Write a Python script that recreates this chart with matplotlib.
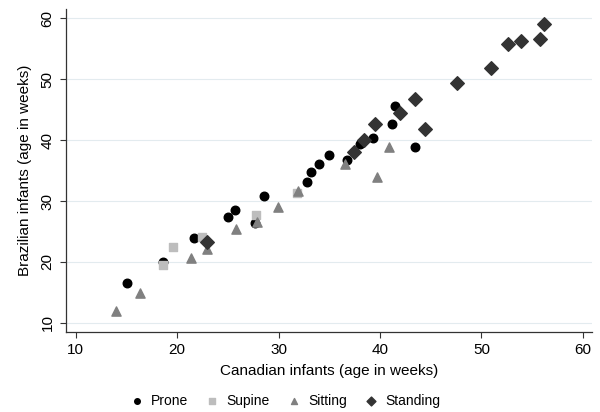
import matplotlib
matplotlib.use("Agg")
import matplotlib.pyplot as plt

plt.rcParams['font.family'] = ['Liberation Sans', 'DejaVu Sans']

# age in weeks: Canadian (x) vs Brazilian (y)
prone_x = [15.0, 18.55, 21.7, 25.05, 25.7, 27.7, 28.6, 32.8, 33.2, 34.0, 35.0, 36.7, 38.0, 39.3, 41.2, 41.5, 43.5]
prone_y = [16.5, 19.95, 23.9, 27.3, 28.6, 26.4, 30.9, 33.1, 34.8, 36.1, 37.5, 36.7, 39.3, 40.4, 42.6, 45.6, 38.9]

supine_x = [18.55, 19.6, 22.4, 27.75, 31.8]
supine_y = [19.5, 22.4, 24.05, 27.7, 31.3]

sitting_x = [14.0, 16.3, 21.35, 22.9, 25.8, 27.85, 29.9, 31.9, 36.55, 39.7, 40.9]
sitting_y = [12.0, 14.9, 20.7, 22.1, 25.4, 26.5, 29.1, 31.6, 36.1, 34.0, 38.8]

standing_x = [22.9, 37.4, 38.4, 39.5, 41.97, 43.45, 44.4, 47.6, 50.9, 52.6, 53.9, 55.8, 56.2]
standing_y = [23.2, 38.0, 40.0, 42.6, 44.4, 46.7, 41.75, 49.3, 51.75, 55.7, 56.3, 56.6, 59.0]

xticks = [10, 20, 30, 40, 50, 60]
yticks = [10, 20, 30, 40, 50, 60]

fig = plt.figure(figsize=(6, 4.12), dpi=100)
ax = fig.add_axes([0.1095, 0.194, 0.877, 0.784])

ax.scatter(prone_x, prone_y, s=38, marker='o', color='black', label='Prone', zorder=3)
ax.scatter(supine_x, supine_y, s=38, marker='s', color='#bdbdbd', label='Supine', zorder=3)
ax.scatter(sitting_x, sitting_y, s=44, marker='^', color='#808080', label='Sitting', zorder=3)
ax.scatter(standing_x, standing_y, s=48, marker='D', color='#333333', label='Standing', zorder=3)

ax.set_xlim(9.0, 60.9)
ax.set_ylim(8.5, 61.5)
ax.set_xticks(xticks)
ax.set_yticks(yticks)
ax.grid(axis='y', color='#e3ebef', linewidth=0.8)
ax.set_axisbelow(True)
for s in ['top', 'right']:
    ax.spines[s].set_visible(False)
for s in ['left', 'bottom']:
    ax.spines[s].set_color('#333333')
    ax.spines[s].set_linewidth(0.9)
ax.tick_params(direction='out', length=4, width=0.8, color='#333333', labelsize=11, pad=4)
plt.setp(ax.get_yticklabels(), rotation=90, va='center')

ax.set_xlabel('Canadian infants (age in weeks)', fontsize=11, labelpad=5)
ax.set_ylabel('Brazilian infants (age in weeks)', fontsize=11, labelpad=6)

leg = fig.legend(loc='center', ncol=4, frameon=False, fontsize=10,
                 handlelength=1.0, handletextpad=0.55, columnspacing=1.2, markerscale=0.65)
leg.set_bbox_to_anchor((0.475, 1 - 401 / 412), transform=fig.transFigure)

fig.savefig('out.png', dpi=100)
